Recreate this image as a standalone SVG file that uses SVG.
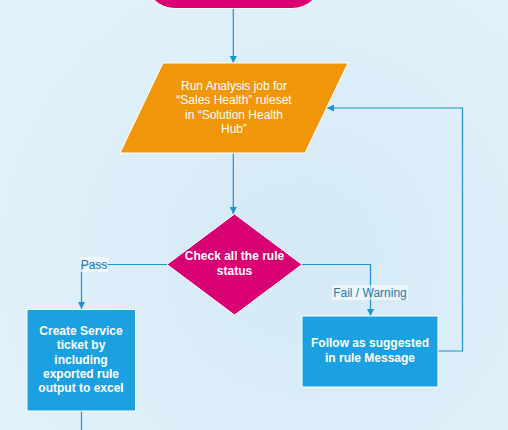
<svg xmlns="http://www.w3.org/2000/svg" width="508" height="430" viewBox="0 0 508 430">
<defs>
<radialGradient id="bg" cx="300" cy="260" r="380" gradientUnits="userSpaceOnUse">
<stop offset="0" stop-color="#d4e9f6"/>
<stop offset="1" stop-color="#e3f3fb"/>
</radialGradient>
<marker id="arr" viewBox="0 0 10 10" refX="10" refY="5" markerWidth="7" markerHeight="7" markerUnits="userSpaceOnUse" orient="auto">
<path d="M0,0 L10,5 L0,10 Z" fill="#1b93d2"/>
</marker>
</defs>
<style>
.edge{fill:none;stroke:#1b93d2;stroke-width:1.2}
.t{font-family:"Liberation Sans",Arial,sans-serif;font-size:12px;fill:#ffffff;text-anchor:middle}
.b{font-weight:bold}
.lbl{font-family:"Liberation Sans",Arial,sans-serif;font-size:12px;fill:#2479ad;text-anchor:middle}
.lbg{fill:#ffffff;fill-opacity:0.55}
</style>
<rect width="508" height="430" fill="url(#bg)"/>
<g id="connectors">
<path class="edge" d="M233.3,9 V63" marker-end="url(#arr)"/>
<path class="edge" d="M233.3,153 V214" marker-end="url(#arr)"/>
<path class="edge" d="M167,264.5 H81.5 V309" marker-end="url(#arr)"/>
<path class="edge" d="M302,264.5 H370.5 V316" marker-end="url(#arr)"/>
<path class="edge" d="M438,351 H462.5 V108 H327" marker-end="url(#arr)"/>
<path class="edge" d="M81.5,411 V430"/>
<g id="label-pass">
<rect class="lbg" x="80" y="257" width="28" height="15"/>
<text class="lbl" x="94" y="269">Pass</text>
</g>
<g id="label-fail">
<rect class="lbg" x="332" y="285" width="76" height="15"/>
<text class="lbl" x="370" y="297">Fail / Warning</text>
</g>
</g>
<g id="start">
<rect x="145" y="-52" width="177" height="60.5" rx="30" ry="30" fill="#d80073" stroke="#ffffff" stroke-width="1"/>
</g>
<g id="run-analysis">
<polygon points="163,63 348,63 305,153 120,153" fill="#f09609" stroke="#ffffff" stroke-width="1"/>
<text class="t" x="234" y="90">Run Analysis job for</text>
<text class="t" x="234" y="104">“Sales Health” ruleset</text>
<text class="t" x="234" y="119">in “Solution Health</text>
<text class="t" x="234" y="133">Hub”</text>
</g>
<g id="check-status">
<polygon points="234.5,214 302,264.5 234.5,315 167,264.5" fill="#d80073" stroke="#ffffff" stroke-width="1"/>
<text class="t b" x="234.5" y="260">Check all the rule</text>
<text class="t b" x="234.5" y="275">status</text>
</g>
<g id="create-ticket">
<rect x="27" y="309.5" width="108.5" height="101.5" fill="#1ba1e2" stroke="#ffffff" stroke-width="1"/>
<text class="t b" x="81" y="335">Create Service</text>
<text class="t b" x="81" y="349">ticket by</text>
<text class="t b" x="81" y="364">including</text>
<text class="t b" x="81" y="378">exported rule</text>
<text class="t b" x="81" y="392">output to excel</text>
</g>
<g id="follow-message">
<rect x="302" y="316" width="136" height="71" fill="#1ba1e2" stroke="#ffffff" stroke-width="1"/>
<text class="t b" x="370" y="347">Follow as suggested</text>
<text class="t b" x="370" y="362">in rule Message</text>
</g>
</svg>
